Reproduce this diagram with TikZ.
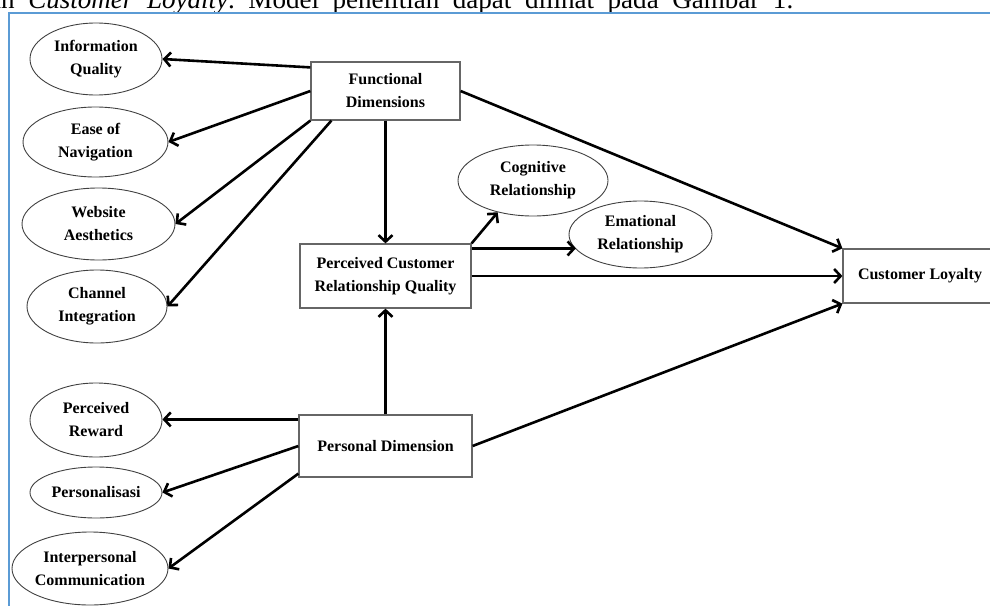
\documentclass[tikz,border=0pt]{standalone}
\usepackage{fontspec}
\setmainfont{Liberation Serif}
\usetikzlibrary{shapes.geometric,arrows.meta,calc}
\definecolor{frameblue}{RGB}{91,155,213}
\newcommand{\wsp}{\hspace{13.5pt}}
\begin{document}
\begin{tikzpicture}[x=1pt,y=-1pt,
  ell/.style={ellipse, draw=black!75, line width=0.9pt, inner sep=0pt, align=center,
    font=\bfseries\fontsize{16}{23}\selectfont},
  box/.style={rectangle, draw=black!60, line width=1.2pt, inner sep=0pt, align=center,
    font=\bfseries\fontsize{16}{23}\selectfont},
  arr/.style={line width=2.6pt, -{Straight Barb[length=6.5pt,width=14pt]}}]
\useasboundingbox (0,0) rectangle (990,605);
% cut-off line of text above the figure
\node[anchor=base west, inner sep=0pt, font=\fontsize{27}{30}\selectfont] (toptext) at (-11,9)
  {\resizebox{804pt}{!}{an\wsp\textit{Customer\wsp Loyalty}.\wsp Model\wsp penelitian\wsp dapat\wsp dilihat\wsp pada\wsp Gambar\wsp 1.}};
% blue frame
\draw[frameblue, line width=2pt] (9,700) -- (9,12.5) -- (1100,12.5);
% ellipses
\node[ell, minimum width=132, minimum height=72] (iq) at (96,59) {Information\\Quality};
\node[ell, minimum width=145, minimum height=70] (en) at (95.5,142) {Ease of\\Navigation};
\node[ell, minimum width=153, minimum height=72] (wa) at (98.5,224) {Website\\Aesthetics};
\node[ell, minimum width=140, minimum height=73] (ci) at (97,306.5) {Channel\\Integration};
\node[ell, minimum width=132, minimum height=74] (pr) at (96,420) {Perceived\\Reward};
\node[ell, minimum width=132, minimum height=51] (ps) at (96,492.5) {Personalisasi};
\node[ell, minimum width=156, minimum height=73] (ic) at (90,568.5) {Interpersonal\\Communication};
\node[ell, minimum width=150, minimum height=71] (cr) at (533,180.5) {Cognitive\\Relationship};
\node[ell, minimum width=143, minimum height=67] (er) at (640.5,234.5) {Emational\\Relationship};
% boxes
\node[box, minimum width=149, minimum height=58] (fd) at (385.5,91) {Functional\\Dimensions};
\node[box, minimum width=171, minimum height=64] (pc) at (385.5,276) {Perceived Customer\\Relationship Quality};
\node[box, minimum width=173, minimum height=62] (pd) at (385.5,446) {Personal Dimension};
\node[box, minimum width=154, minimum height=54] (cl) at (920,276) {Customer Loyalty};
% arrows from Functional Dimensions
\draw[arr] ($(fd.north west)+(0,6)$) -- (iq.east);
\draw[arr] (fd.west) -- (en.east);
\draw[arr] (fd.south west) -- (wa.east);
\draw[arr] ($(fd.south west)+(21,0)$) -- (ci.east);
\draw[arr] (fd.south) -- (pc.north);
\draw[arr] (fd.east) -- (cl.north west);
% arrows from Perceived Customer Relationship Quality
\draw[arr] (pc.north east) -- (cr.222);
\coordinate (pe) at ($(pc.north east)+(0,5)$);
\draw[arr] (pe) -- (pe -| er.193);
\draw[arr] (pc.east) -- (cl.west);
% arrows from Personal Dimension
\draw[arr] (pd.north) -- (pc.south);
\coordinate (pw) at ($(pd.north west)+(0,5)$);
\draw[arr] (pw) -- (pw -| pr.east);
\draw[arr] (pd.west) -- (ps.east);
\draw[arr] ($(pd.south west)+(0,-4)$) -- (ic.east);
\draw[arr] (pd.east) -- (cl.south west);
\end{tikzpicture}
\end{document}
